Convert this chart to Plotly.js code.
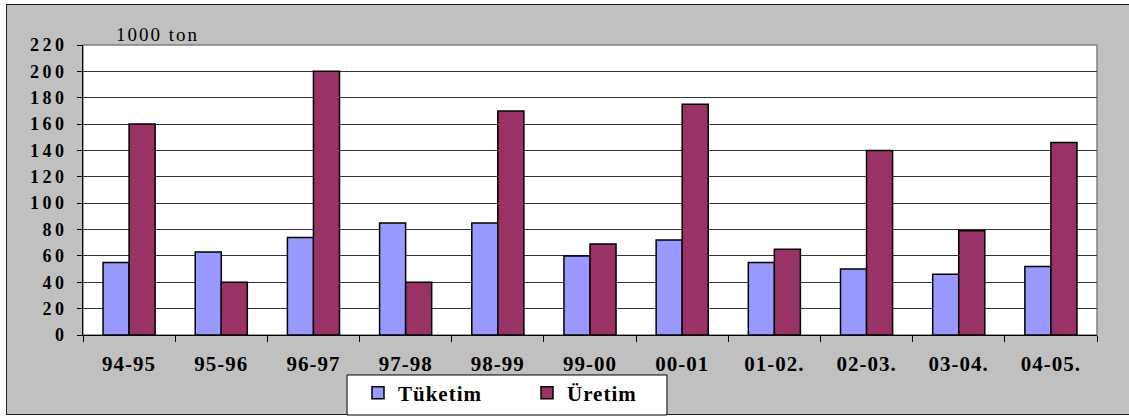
<!DOCTYPE html>
<html>
<head>
<meta charset="utf-8">
<script src="https://cdn.plot.ly/plotly-3.0.1.min.js"></script>
<style>
  html, body { margin: 0; padding: 0; background: #ffffff; }
  #frame { position: absolute; left: 6px; top: 4px; width: 1130px; height: 411px;
           background: #c0c0c0; border: 1.5px solid #222; box-sizing: border-box; }
  #chart { position: absolute; left: 0; top: 0; width: 1129px; height: 417px; }
  #chart .xtick text { letter-spacing: 1px; }
  #chart .ytick text { letter-spacing: 3.5px; }
  #chart .legendtext { letter-spacing: 1px; }
  #chart .annotation-text { letter-spacing: 2px; }
</style>
</head>
<body>
<div id="frame"></div>
<div id="chart"></div>
<script>
const categories = ['94-95', '95-96', '96-97', '97-98', '98-99', '99-00', '00-01', '01-02.', '02-03.', '03-04.', '04-05.'];
const tuketim = [55, 63, 74, 85, 85, 60, 72, 55, 50, 46, 52];
const uretim  = [160, 40, 200, 40, 170, 69, 175, 65, 140, 79, 146];
const seriesNames = ['Tüketim', 'Üretim'];
const unitLabel = '1000 ton';
const yTicks = [0, 20, 40, 60, 80, 100, 120, 140, 160, 180, 200, 220];

const serif = 'Liberation Serif';

const traces = [
  { type: 'bar', name: seriesNames[0], x: categories, y: tuketim,
    marker: { color: '#9999ff', line: { color: '#000000', width: 1.5 } } },
  { type: 'bar', name: seriesNames[1], x: categories, y: uretim,
    marker: { color: '#993366', line: { color: '#000000', width: 1.5 } } }
];

const layout = {
  width: 1129, height: 417,
  margin: { l: 83, r: 32, t: 45, b: 82, autoexpand: false },
  paper_bgcolor: 'rgba(0,0,0,0)',
  plot_bgcolor: '#ffffff',
  barmode: 'group',
  bargap: 0.435,
  bargroupgap: 0,
  showlegend: true,
  font: { family: serif, size: 17, color: '#000000' },
  xaxis: {
    type: 'category',
    tickson: 'boundaries',
    ticks: 'outside', ticklen: 6, tickcolor: '#000000', tickwidth: 1,
    showline: true, linecolor: '#000000', linewidth: 1,
    showgrid: false,
    ticklabelstandoff: 10,
    tickfont: { family: serif, size: 21, weight: 700, color: '#000000' },
    fixedrange: true
  },
  yaxis: {
    range: [0, 220],
    tickvals: yTicks,
    ticktext: yTicks.map(String),
    ticks: 'outside', ticklen: 5, tickcolor: '#000000', tickwidth: 1,
    showline: true, linecolor: '#000000', linewidth: 1,
    showgrid: true, gridcolor: '#333333', gridwidth: 1,
    zeroline: false,
    ticklabelstandoff: 6,
    tickfont: { family: serif, size: 18, weight: 700, color: '#000000' },
    fixedrange: true
  },
  shapes: [
    { type: 'rect', xref: 'paper', yref: 'paper', x0: 0, x1: 1, y0: 0, y1: 1,
      line: { color: '#808080', width: 1.5 }, layer: 'below' },
    { type: 'rect', xref: 'paper', yref: 'paper',
      x0: 0.2604, x1: 0.5759, y0: -0.2759, y1: -0.1379,
      fillcolor: '#ffffff', line: { color: '#000000', width: 1 }, layer: 'above' }
  ],
  legend: {
    orientation: 'h',
    xref: 'container', yref: 'container',
    x: 358 / 1129, xanchor: 'left',
    y: 1 - 393 / 417, yanchor: 'middle',
    bgcolor: 'rgba(0,0,0,0)',
    borderwidth: 0,
    entrywidth: 124,
    font: { family: serif, size: 21, weight: 700, color: '#000000' },
    itemclick: false, itemdoubleclick: false
  },
  annotations: [
    { text: unitLabel, xref: 'paper', yref: 'paper',
      x: (122 - 83) / 1014, y: (335 - 35) / 290, xanchor: 'left', yanchor: 'middle',
      showarrow: false, font: { family: serif, size: 19, color: '#000000' } }
  ]
};

Plotly.newPlot('chart', traces, layout, { staticPlot: true, displayModeBar: false });
</script>
</body>
</html>
